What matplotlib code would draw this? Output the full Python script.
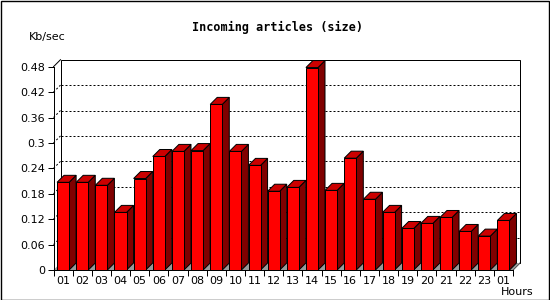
import matplotlib
matplotlib.use("Agg")
import matplotlib.pyplot as plt
from matplotlib.patches import Rectangle, Polygon

# data
hours = ["01", "02", "03", "04", "05", "06", "07", "08", "09", "10", "11", "12",
         "13", "14", "15", "16", "17", "18", "19", "20", "21", "22", "23", "01"]
kb_sec = [0.207, 0.207, 0.200, 0.136, 0.216, 0.268, 0.280, 0.282, 0.391, 0.280,
          0.247, 0.186, 0.195, 0.478, 0.188, 0.264, 0.167, 0.136, 0.098, 0.110,
          0.124, 0.091, 0.080, 0.117]
y_ticks = [0, 0.06, 0.12, 0.18, 0.24, 0.3, 0.36, 0.42, 0.48]

W, H = 550, 300
LW = 0.72  # one pixel
fig = plt.figure(figsize=(5.5, 3), dpi=100)
fig.patch.set_facecolor("white")

# front plane of the 3d plot, in pixels
left, right, bottom, top = 53.5, 513.0, 270.0, 66.7
ax = fig.add_axes([left / W, 1 - bottom / H, (right - left) / W, (bottom - top) / H])
n = len(kb_sec)
ymax = y_ticks[-1]
ax.set_xlim(0, n)
ax.set_ylim(0, ymax)

# 7px depth converted to data units
depth_px = 7
dx = depth_px * n / (right - left)
dy = depth_px * ymax / (bottom - top)

# back wall + floor
ax.add_patch(Rectangle((dx, dy), n, ymax, fc="white", ec="black", lw=LW,
                       clip_on=False, zorder=0))
ax.add_patch(Polygon([(0, 0), (n, 0), (n + dx, dy), (dx, dy)], closed=True,
                     fc="#999999", ec="none", clip_on=False, zorder=0.5))
for t in y_ticks[1:-1]:
    ax.plot([dx, n + dx], [t + dy, t + dy], ls=(0, (2, 2)), color="black",
            lw=LW, clip_on=False, zorder=0.3)
    ax.plot([0, dx], [t, t + dy], ls=(0, (2, 2)), color="black",
            lw=LW, clip_on=False, zorder=0.3)
ax.plot([0, dx], [ymax, ymax + dy], color="black", lw=LW, clip_on=False, zorder=0.3)
ax.plot([n, n + dx], [0, dy], color="black", lw=LW, clip_on=False, zorder=0.3)

# 3d bars
bw = 0.63
for i, v in enumerate(kb_sec):
    x0 = i + (1 - bw) / 2
    x1 = x0 + bw
    z = 2 + i * 0.01
    ax.add_patch(Polygon([(x1, 0), (x1 + dx, dy), (x1 + dx, v + dy), (x1, v)],
                         closed=True, fc="#800000", ec="black", lw=LW,
                         clip_on=False, zorder=z))
    ax.add_patch(Polygon([(x0, v), (x1, v), (x1 + dx, v + dy), (x0 + dx, v + dy)],
                         closed=True, fc="#cc0000", ec="black", lw=LW,
                         clip_on=False, zorder=z))
    ax.add_patch(Rectangle((x0, 0), bw, v, fc="#ff0000", ec="black", lw=LW,
                           clip_on=False, zorder=z + 0.005))

for s in ["top", "right"]:
    ax.spines[s].set_visible(False)
for s in ["left", "bottom"]:
    ax.spines[s].set_linewidth(LW)
    ax.spines[s].set_zorder(5)
ax.patch.set_visible(False)

ax.set_yticks(y_ticks)
ax.set_yticklabels(["%g" % t for t in y_ticks])
ax.set_xticks(range(n + 1))
ax.set_xticklabels([])
ax.set_xticks([i + 0.5 for i in range(n)], minor=True)
ax.set_xticklabels(hours, minor=True)
ax.tick_params(axis="x", which="major", length=4, width=LW, direction="out")
ax.tick_params(axis="x", which="minor", length=0, pad=4.5, labelsize=8)
ax.tick_params(axis="y", length=4, width=LW, direction="out", pad=2, labelsize=8)

fig.text(278 / W, 1 - 27 / H, "Incoming articles (size)", ha="center", va="center",
         family="DejaVu Sans Mono", weight="bold", fontsize=8.5)
fig.text(47 / W, 1 - 37 / H, "Kb/sec", ha="center", va="center", fontsize=8)
fig.text(534 / W, 1 - 292 / H, "Hours", ha="right", va="center", fontsize=8)

fig.patches.append(Rectangle((0.5 / W, 0.5 / H), 1 - 1.5 / W, 1 - 1.5 / H,
                             transform=fig.transFigure, fill=False, ec="black", lw=1))

fig.savefig("out.png", dpi=100)
